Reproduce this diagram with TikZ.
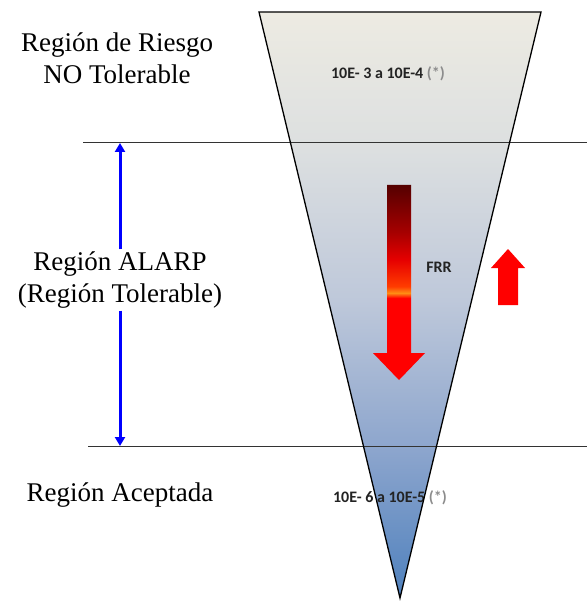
\documentclass[tikz,border=0pt]{standalone}
\usepackage{fontspec}
\setmainfont{Liberation Serif}
\newfontfamily\numfont{Carlito}
\usetikzlibrary{arrows.meta}

\definecolor{coneT}{RGB}{237,235,226}
\definecolor{coneE}{RGB}{220,223,224}
\definecolor{coneD}{RGB}{190,200,218}
\definecolor{coneC}{RGB}{140,165,205}
\definecolor{coneB}{RGB}{79,129,189}
\definecolor{frrA}{RGB}{85,0,0}
\definecolor{frrB}{RGB}{165,0,0}
\definecolor{frrC}{RGB}{230,0,0}
\definecolor{frrD}{RGB}{255,60,0}
\definecolor{frrE}{RGB}{255,140,20}
\definecolor{frrF}{RGB}{255,0,0}
\definecolor{txtgray}{RGB}{35,35,35}
\definecolor{stargray}{RGB}{140,140,140}

\pgfdeclareverticalshading{coneshade}{100bp}{color(0bp)=(coneB); color(25bp)=(coneB);
  color(37.6bp)=(coneC); color(50.4bp)=(coneD); color(63.2bp)=(coneE);
  color(75bp)=(coneT); color(100bp)=(coneT)}
\pgfdeclareverticalshading{frrshade}{100bp}{color(0bp)=(frrF); color(44bp)=(frrF);
  color(46bp)=(frrF); color(47.3bp)=(frrE); color(49bp)=(frrD); color(55.8bp)=(frrC);
  color(63bp)=(frrB); color(75bp)=(frrA); color(100bp)=(frrA)}

\begin{document}
\begin{tikzpicture}[
  x=1pt, y=-1pt,
  region/.style={align=center, inner sep=2pt, font=\rmfamily\fontsize{27}{32}\selectfont},
  rate/.style={inner sep=1pt, text=txtgray, font=\numfont\bfseries\fontsize{16}{18}\selectfont},
  level/.style={line width=1pt, draw=black!80},
  alarp/.style={-{Triangle[length=9pt, width=10pt]}, line width=3pt, blue}
]
\useasboundingbox (0,0) rectangle (587,601);

\shade[shading=coneshade] (259,12) -- (541,12) -- (400,598) -- cycle;

\coordinate (ltop) at (83,143);
\coordinate (rtop) at (587,143);
\coordinate (lbot) at (88,446);
\coordinate (rbot) at (587,446);
\draw[level] (ltop) -- (rtop);
\draw[level] (lbot) -- (rbot);

\node[rate] (high) at (388,74) {10E- 3 a 10E-4 \textcolor{stargray}{(*)}};
\node[rate] (low) at (390,498) {10E- 6 a 10E-5 \textcolor{stargray}{(*)}};

\draw[line width=1.3pt] (259,12) -- (541,12) -- (400,598) -- cycle;

\shade[shading=frrshade] (387,185) -- (411,185) -- (411,353) -- (425,353) -- (399,380)
  -- (373,353) -- (387,353) -- cycle;
\node[rate] (frr) at (439,267) {FRR};
\fill[red] (508,249) -- (525,268) -- (518,268) -- (518,305) -- (498,305) -- (498,268)
  -- (491,268) -- cycle;

\node[region] (norisk) at (117,58) {Región de Riesgo\\NO Tolerable};
\node[region] (tolerable) at (120,280) {Región ALARP\\(Región Tolerable)};
\node[region] (accepted) at (120,495) {Región Aceptada};

\coordinate (alarptop) at (120,143);
\coordinate (alarpbot) at (120,446);
\draw[alarp] (tolerable) -- (alarptop);
\draw[alarp] (tolerable) -- (alarpbot);
\end{tikzpicture}
\end{document}
